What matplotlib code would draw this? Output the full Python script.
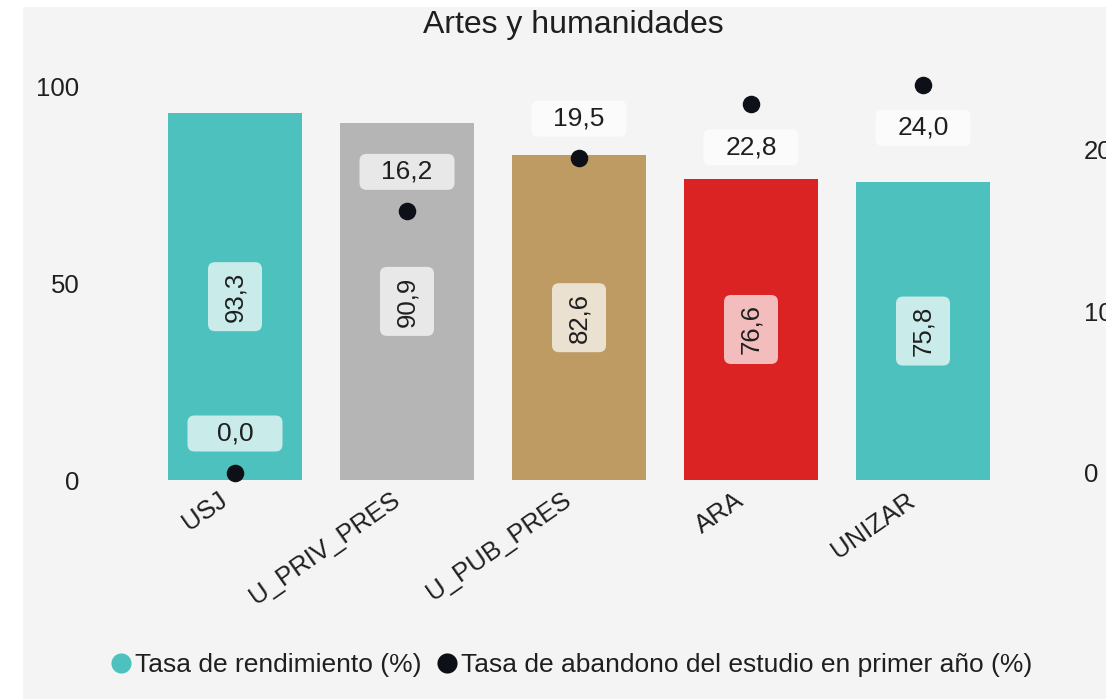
import matplotlib
matplotlib.use("Agg")
import matplotlib.pyplot as plt
from matplotlib.patches import FancyBboxPatch, Rectangle
from matplotlib.lines import Line2D
from matplotlib.transforms import Affine2D, ScaledTranslation

plt.rcParams['font.family'] = ['Liberation Sans', 'DejaVu Sans']

title = "Artes y humanidades"
categories = ["USJ", "U_PRIV_PRES", "U_PUB_PRES", "ARA", "UNIZAR"]
rendimiento = [93.3, 90.9, 82.6, 76.6, 75.8]
abandono = [0.0, 16.2, 19.5, 22.8, 24.0]
bar_colors = ["#4dc1bd", "#b5b5b5", "#bd9b63", "#dc2323", "#4dc1bd"]
label_rend = "Tasa de rendimiento (%)"
label_aband = "Tasa de abandono del estudio en primer año (%)"
left_ticks = [0, 50, 100]
right_ticks = [0, 10, 20]

W, H, DPI = 1106, 699, 100
BG = "#f4f4f4"
TXT = "#1f1f1f"
DOT = "#0d1117"

fig = plt.figure(figsize=(W / DPI, H / DPI), dpi=DPI)
fig.patch.set_facecolor("white")
fig.patches.append(Rectangle((23 / W, 0), 1 - 23 / W, 1 - 7 / H,
                             transform=fig.transFigure, facecolor=BG,
                             edgecolor="none", zorder=-10))

ax_left, ax_right = 149, 1009
ax_top, ax_bottom = 62, 480
ax = fig.add_axes([ax_left / W, 1 - ax_bottom / H,
                   (ax_right - ax_left) / W, (ax_bottom - ax_top) / H])
ax.set_facecolor("none")
ax2 = ax.twinx()
ax2.set_facecolor("none")

x = list(range(len(categories)))
ax.bar(x, rendimiento, width=0.78, color=bar_colors, zorder=2)
ax.set_xlim(-0.5, len(categories) - 0.5)
ax.set_ylim(0, (ax_bottom - ax_top) / 3.93)
ax.set_yticks(left_ticks)
ax.set_yticklabels([str(t) for t in left_ticks])

y0_px = 472.5
ppu = 16.15
ax2.set_ylim((y0_px - ax_bottom) / ppu, (y0_px - ax_top) / ppu)
ax2.set_yticks(right_ticks)
ax2.set_yticklabels([str(t) for t in right_ticks])
ax2.scatter(x, abandono, s=135, color=DOT, zorder=5, clip_on=False)

for a in (ax, ax2):
    for s in a.spines.values():
        s.set_visible(False)
    a.tick_params(length=0, labelsize=18.5, colors=TXT)
ax.tick_params(axis='y', pad=50)
ax2.tick_params(axis='y', pad=54)

ax.set_xticks(x)
ax.set_xticklabels(categories, rotation=35, ha="right", va="center",
                   rotation_mode="anchor", fontsize=18.5, color=TXT)
ax.tick_params(axis='x', pad=10)
for lbl in ax.get_xticklabels():
    lbl.set_transform(lbl.get_transform() + ScaledTranslation(-0.10, -0.04, fig.dpi_scale_trans))

def fmt(v):
    return f"{v:.1f}".replace(".", ",")

def box(axis, xv, yv, w, h, dx=0, dy=0):
    tr = Affine2D().translate(dx - w / 2, dy - h / 2) + ScaledTranslation(xv, yv, axis.transData)
    p = FancyBboxPatch((0, 0), w, h, boxstyle="round,pad=0,rounding_size=7",
                       transform=tr, facecolor="white", alpha=0.7,
                       edgecolor="none", zorder=6, clip_on=False)
    axis.add_artist(p)

# bar value labels (rotated, centred in bar)
for xi, v in zip(x, rendimiento):
    ym = v / 2
    box(ax, xi, ym, 54, 69)
    ax.text(xi, ym, fmt(v), rotation=90, ha="center", va="center",
            fontsize=18.5, color=TXT, zorder=7)

# dot labels
for xi, v in zip(x, abandono):
    dy = -43 if v > 21 else 39
    box(ax2, xi, v, 95, 36, dy=dy)
    ax2.annotate(fmt(v), (xi, v), xytext=(0, dy * 72 / DPI), textcoords="offset points",
                 ha="center", va="center", fontsize=19, color=TXT, zorder=7)

fig.text(573 / W, 1 - 25 / H, title, ha="center", va="center", fontsize=23, color=TXT)

handles = [Line2D([], [], marker="o", linestyle="none", markersize=14.5,
                  markerfacecolor="#4dc1bd", markeredgecolor="none", label=label_rend),
           Line2D([], [], marker="o", linestyle="none", markersize=14.5,
                  markerfacecolor=DOT, markeredgecolor="none", label=label_aband)]
leg = fig.legend(handles=handles, loc="center", bbox_to_anchor=(570 / W, 1 - 665 / H),
                 ncol=2, frameon=False, fontsize=19, handletextpad=0.05,
                 columnspacing=0.45, handlelength=1.0, borderaxespad=0)
for t in leg.get_texts():
    t.set_color(TXT)

fig.savefig("out.png", dpi=DPI, facecolor=fig.get_facecolor())
